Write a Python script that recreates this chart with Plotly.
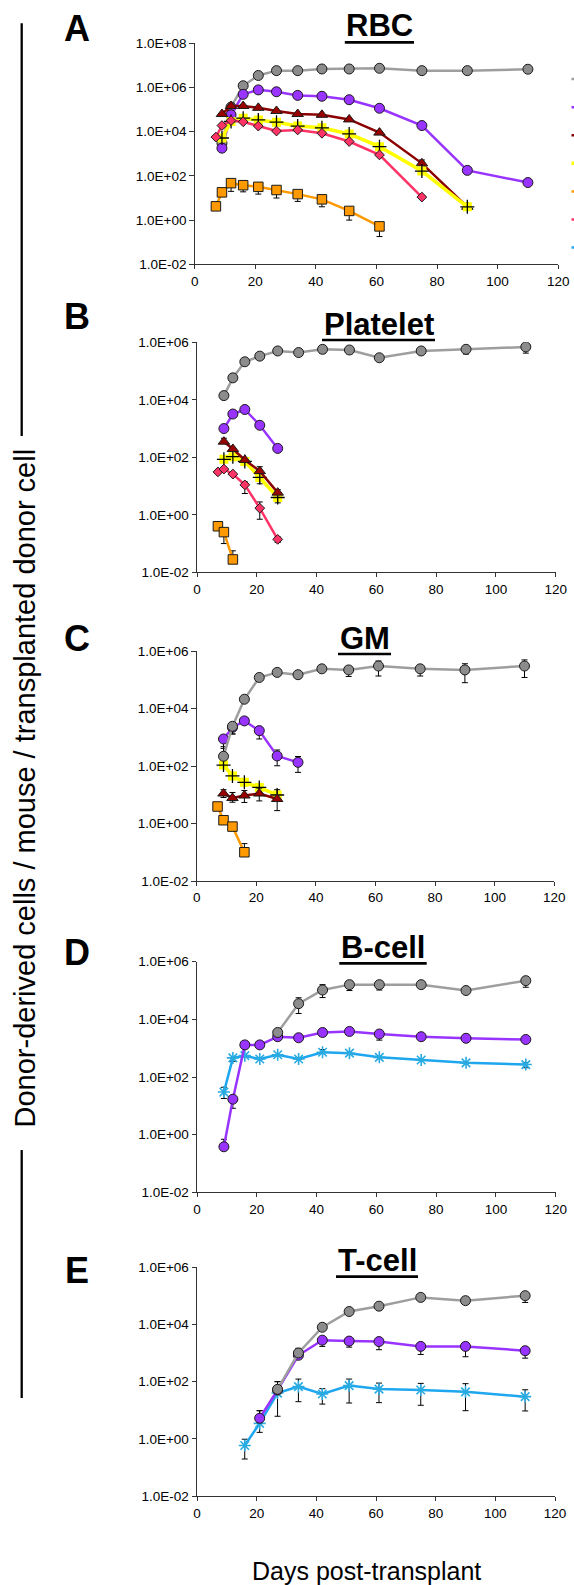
import plotly.graph_objects as go

# ---------------- data ----------------
DAYS = [7, 9, 12, 16, 21, 27, 34, 42, 51, 61, 75, 90, 110]
X_TICKS = [0, 20, 40, 60, 80, 100, 120]
Y_TICKS_A = [1e-2, 1e0, 1e2, 1e4, 1e6, 1e8]
Y_LABELS_A = ["1.0E-02", "1.0E+00", "1.0E+02", "1.0E+04", "1.0E+06", "1.0E+08"]
Y_TICKS = [1e-2, 1e0, 1e2, 1e4, 1e6]
Y_LABELS = ["1.0E-02", "1.0E+00", "1.0E+02", "1.0E+04", "1.0E+06"]

PANEL_TITLES = ["RBC", "Platelet", "GM", "B-cell", "T-cell"]
PANEL_LETTERS = ["A", "B", "C", "D", "E"]
SERIES_NAMES = {"gray": "Series 1", "purple": "Series 2", "darkred": "Series 3",
                "yellow": "Series 4", "orange": "Series 5", "pink": "Series 6",
                "blue": "Series 7"}
Y_TITLE = "Donor-derived cells / mouse / transplanted donor cell"
X_TITLE = "Days post-transplant"

N = None
# RBC
RBC_GRAY = [N, 3e3, 1.3e5, 1.2e6, 3.5e6, 5.8e6, 5.8e6, 6.9e6, 6.9e6, 7.4e6, 5.8e6, 5.8e6, 6.7e6]
RBC_PURPLE = [N, 1.8e3, 5.8e4, 4.9e5, 7.8e5, 6.4e5, 4.4e5, 4.0e5, 2.8e5, 1.15e5, 1.9e4, 178, 50]
RBC_DARKRED = [N, 6.3e4, 1.45e5, 1.45e5, 1.2e5, 8.7e4, 6.3e4, 5.8e4, 3.6e4, 9.1e3, 370, 4, N]
RBC_YELLOW = [N, 5.2e3, 2.9e4, 4.1e4, 3.4e4, 2.7e4, 1.8e4, 1.5e4, 7.9e3, 2.1e3, 166, 4, N]
RBC_ORANGE = [4.2, 18, 47, 38, 32, 23, 15, 8.7, 2.6, 0.52, N, N, N]
RBC_PINK = [5.7e3, 1.9e4, 3.2e4, 2.8e4, 1.8e4, 1.07e4, 1.2e4, 8.5e3, 3.6e3, 890, 11, N, N]
RBC_BLUE = [N] * 13
RBC_DARKRED_HI = {75: 525}
RBC_ORANGE_LO = {12: 20, 16: 19, 21: 15, 27: 10, 34: 7, 42: 4, 51: 1.0, 61: 0.18}

# Platelet
PLT_GRAY = [N, 1.4e4, 5.8e4, 2.1e5, 3.3e5, 5.0e5, 4.4e5, 5.7e5, 5.4e5, 2.9e5, 5.0e5, 5.7e5, 6.9e5]
PLT_PURPLE = [N, 1.0e3, 3.2e3, 4.6e3, 1.3e3, 204, N, N, N, N, N, N, N]
PLT_DARKRED = [N, 350, 195, 81, 33, 5.9, N, N, N, N, N, N, N]
PLT_YELLOW = [N, 85, 105, 72, 20, 4.0, N, N, N, N, N, N, N]
PLT_PINK = [31, 39, 26, 11, 1.7, 0.14, N, N, N, N, N, N, N]
PLT_ORANGE = [0.40, 0.25, 0.028, N, N, N, N, N, N, N, N, N, N]
PLT_GRAY_HI = {42: 7.5e5, 51: 7.0e5, 75: 6.5e5, 90: 7.5e5, 110: 1.05e6}
PLT_GRAY_LO = {42: 4.2e5, 51: 4.0e5, 75: 3.8e5, 90: 3.9e5, 110: 4.2e5}
PLT_DARKRED_HI = {9: 460, 21: 47, 27: 7.5}
PLT_YELLOW_LO = {21: 12, 27: 2.6}
PLT_PINK_HI = {16: 14, 21: 2.8, 27: 0.17}
PLT_PINK_LO = {16: 5.5, 21: 0.7, 27: 0.11}
PLT_ORANGE_HI = {12: 0.056}
PLT_ORANGE_LO = {9: 0.1}

# GM
GM_GRAY = [N, 218, 2.4e3, 2.1e4, 1.2e5, 1.8e5, 1.5e5, 2.4e5, 2.2e5, 3.0e5, 2.4e5, 2.2e5, 3.0e5]
GM_PURPLE = [N, 870, 2.2e3, 3.7e3, 1.7e3, 224, 134, N, N, N, N, N, N]
GM_YELLOW = [N, 108, 45, 27, 18, 9.8, N, N, N, N, N, N, N]
GM_DARKRED = [N, 11, 7.7, 9.4, 11, 7.1, N, N, N, N, N, N, N]
GM_ORANGE = [3.9, 1.3, 0.78, 0.10, N, N, N, N, N, N, N, N, N]
GM_GRAY_HI = {9: 470, 51: 2.8e5, 61: 4.5e5, 75: 2.9e5, 90: 3.6e5, 110: 4.9e5}
GM_GRAY_LO = {12: 1.3e3, 51: 1.3e5, 61: 1.35e5, 75: 1.35e5, 90: 7.9e4, 110: 1.2e5}
GM_PURPLE_HI = {27: 360, 34: 214}
GM_PURPLE_LO = {9: 410, 12: 1.3e3, 21: 870, 27: 102, 34: 60}
GM_DARKRED_HI = {9: 15, 12: 12, 16: 14, 21: 17, 27: 15}
GM_DARKRED_LO = {9: 8, 12: 5.5, 16: 5.4, 21: 6.1, 27: 2.8}
GM_ORANGE_HI = {16: 0.2}

# B-cell
BC_GRAY = [N, N, N, N, N, 3.5e3, 3.5e4, 1.04e5, 1.6e5, 1.6e5, 1.6e5, 1.0e5, 2.2e5]
BC_PURPLE = [N, 0.38, 17, 1.3e3, 1.3e3, 2.5e3, 2.3e3, 3.5e3, 3.8e3, 3.1e3, 2.5e3, 2.2e3, 2.0e3]
BC_BLUE = [N, 30, 460, 550, 420, 590, 420, 720, 670, 480, 390, 310, 270]
BC_GRAY_HI = {34: 5.6e4, 42: 1.6e5, 110: 2.9e5}
BC_GRAY_LO = {34: 1.6e4, 42: 5.7e4, 51: 1.0e5, 61: 1.04e5, 90: 8e4, 110: 1.3e5}
BC_PURPLE_HI = {9: 0.69}
BC_PURPLE_LO = {12: 8.2, 61: 1.9e3, 90: 1.6e3}
BC_BLUE_HI = {9: 44, 42: 900, 110: 320}
BC_BLUE_LO = {9: 18, 12: 350, 110: 210}

# T-cell
TC_GRAY = [N, N, N, N, N, 54, 1.0e3, 7.9e3, 2.8e4, 4.3e4, 8.7e4, 6.7e4, 1.0e5]
TC_PURPLE = [N, N, N, N, 5.3, 51, 830, 2.8e3, 2.6e3, 2.5e3, 1.7e3, 1.7e3, 1.2e3]
TC_BLUE = [N, N, N, 0.59, 3.5, 40, 67, 37, 73, 55, 51, 44, 30]
TC_GRAY_HI = {27: 100, 34: 1.45e3, 42: 1.07e4}
TC_GRAY_LO = {75: 7e4, 90: 5.2e4, 110: 5.8e4}
TC_PURPLE_HI = {21: 9.7, 90: 2.3e3}
TC_PURPLE_LO = {21: 3.7, 42: 1.7e3, 51: 1.6e3, 61: 1.3e3, 75: 890, 90: 740, 110: 660}
TC_BLUE_HI = {16: 0.98, 21: 9.7, 27: 100, 34: 123, 42: 57, 51: 123, 61: 89, 75: 87, 90: 85, 110: 52}
TC_BLUE_LO = {16: 0.2, 21: 1.7, 27: 6.2, 34: 20, 42: 16.5, 51: 18, 61: 18.5, 75: 15, 90: 9.7, 110: 9.5}

# ---------------- styles ----------------
STYLE = {
    "gray": dict(symbol="circle", fill="#8c8c8c", line="#9e9e9e", size=10, lw=2.5),
    "purple": dict(symbol="circle", fill="#9933ff", line="#9933ff", size=10, lw=2.5),
    "darkred": dict(symbol="triangle-up", fill="#990000", line="#8b0000", size=10, lw=2.5),
    "yellow": dict(symbol="square", fill="#ffff00", line="#ffff00", size=9, lw=3.5),
    "orange": dict(symbol="square", fill="#ff9900", line="#ff9900", size=9.5, lw=2.5),
    "pink": dict(symbol="diamond", fill="#ff3366", line="#ff3366", size=7.5, lw=2.5),
    "blue": dict(symbol="asterisk-open", fill="#29abe2", line="#1ea6ef", size=10, lw=2.5),
}
LEGEND_RANK = {"gray": 1, "purple": 2, "darkred": 3, "yellow": 4, "orange": 5, "pink": 6, "blue": 7}

W, H = 574, 1585
FONT = "Liberation Sans, Arial, sans-serif"

PANEL_X = [(194.7, 558.2), (197, 555.7), (196.7, 554.3), (197, 555.7), (197, 555)]
PANEL_Y = [(43.3, 264.3), (342.3, 572.3), (651, 881), (961.7, 1192.3), (1267, 1496.3)]

PANELS = [
    [("gray", RBC_GRAY, {}, {}), ("purple", RBC_PURPLE, {}, {}),
     ("darkred", RBC_DARKRED, RBC_DARKRED_HI, {}), ("yellow", RBC_YELLOW, {}, {}),
     ("orange", RBC_ORANGE, {}, RBC_ORANGE_LO), ("pink", RBC_PINK, {}, {}),
     ("blue", RBC_BLUE, {}, {})],
    [("gray", PLT_GRAY, PLT_GRAY_HI, PLT_GRAY_LO), ("purple", PLT_PURPLE, {}, {}),
     ("yellow", PLT_YELLOW, {}, PLT_YELLOW_LO), ("darkred", PLT_DARKRED, PLT_DARKRED_HI, {}),
     ("pink", PLT_PINK, PLT_PINK_HI, PLT_PINK_LO), ("orange", PLT_ORANGE, PLT_ORANGE_HI, PLT_ORANGE_LO)],
    [("purple", GM_PURPLE, GM_PURPLE_HI, GM_PURPLE_LO), ("yellow", GM_YELLOW, {}, {}),
     ("darkred", GM_DARKRED, GM_DARKRED_HI, GM_DARKRED_LO), ("orange", GM_ORANGE, GM_ORANGE_HI, {}),
     ("gray", GM_GRAY, GM_GRAY_HI, GM_GRAY_LO)],
    [("blue", BC_BLUE, BC_BLUE_HI, BC_BLUE_LO), ("purple", BC_PURPLE, BC_PURPLE_HI, BC_PURPLE_LO),
     ("gray", BC_GRAY, BC_GRAY_HI, BC_GRAY_LO)],
    [("blue", TC_BLUE, TC_BLUE_HI, TC_BLUE_LO), ("purple", TC_PURPLE, TC_PURPLE_HI, TC_PURPLE_LO),
     ("gray", TC_GRAY, TC_GRAY_HI, TC_GRAY_LO)],
]

fig = go.Figure()


def px_x(p):
    return p / W


def px_y(p):
    return 1 - p / H


for i, series in enumerate(PANELS):
    sfx = "" if i == 0 else str(i + 1)
    xa, ya = "x" + sfx, "y" + sfx
    for key, vals, hi, lo in series:
        st = STYLE[key]
        xs = [d for d, v in zip(DAYS, vals) if v is not None]
        ys = [v for v in vals if v is not None]
        plus = [(hi[d] - v) if d in hi else 0 for d, v in zip(xs, ys)]
        minus = [(v - lo[d]) if d in lo else 0 for d, v in zip(xs, ys)]
        if key == "blue":
            marker = dict(symbol=st["symbol"], size=st["size"], color=st["fill"],
                          line=dict(color=st["fill"], width=1.6))
        elif key == "yellow":
            marker = dict(symbol=st["symbol"], size=st["size"], color=st["fill"],
                          line=dict(color=st["fill"], width=0))
        else:
            marker = dict(symbol=st["symbol"], size=st["size"], color=st["fill"],
                          line=dict(color="#1a1a1a", width=1))
        fig.add_trace(go.Scatter(
            x=xs if xs else [None], y=ys if ys else [None], mode="lines+markers",
            name=SERIES_NAMES[key], legendrank=LEGEND_RANK[key],
            showlegend=(i == 0),
            line=dict(color=st["line"], width=st["lw"]),
            marker=marker,
            error_y=dict(type="data", symmetric=False, array=plus, arrayminus=minus,
                         color="black", thickness=1, width=3),
            xaxis=xa, yaxis=ya, hoverinfo="x+y",
        ))
        if key == "yellow":
            fig.add_trace(go.Scatter(
                x=xs, y=ys, mode="markers", showlegend=False,
                marker=dict(symbol="cross-thin", size=10, color="black",
                            line=dict(color="black", width=1.3)),
                xaxis=xa, yaxis=ya, hoverinfo="skip",
            ))

layout = dict(
    width=W, height=H,
    margin=dict(l=0, r=0, t=0, b=0, autoexpand=False),
    paper_bgcolor="white", plot_bgcolor="white",
    font=dict(family=FONT, color="black"),
    showlegend=True,
    legend=dict(x=566.5 / W, xanchor="left", y=px_y(60), yanchor="top",
                font=dict(size=19.3), bgcolor="rgba(0,0,0,0)", borderwidth=0,
                traceorder="normal"),
)

for i in range(5):
    sfx = "" if i == 0 else str(i + 1)
    x0, x1 = PANEL_X[i]
    ytop, ybot = PANEL_Y[i]
    layout["xaxis" + sfx] = dict(
        domain=[px_x(x0), px_x(x1)], anchor="y" + sfx, range=[0, 120],
        tickvals=X_TICKS, ticks="outside", ticklen=4, tickwidth=1, tickcolor="#333",
        showline=True, linecolor="#333", linewidth=1, showgrid=False, zeroline=False,
        tickfont=dict(size=13.5, family=FONT, color="black"),
    )
    layout["yaxis" + sfx] = dict(
        domain=[px_y(ybot), px_y(ytop)], anchor="x" + sfx, type="log",
        range=[-2, 8] if i == 0 else [-2, 6],
        tickvals=Y_TICKS_A if i == 0 else Y_TICKS,
        ticktext=Y_LABELS_A if i == 0 else Y_LABELS,
        ticks="outside", ticklen=4.5, tickwidth=1, tickcolor="#333",
        showline=True, linecolor="#333", linewidth=1, showgrid=False, zeroline=False,
        tickfont=dict(size=13.5, family=FONT, color="black"),
    )

fig.update_layout(**layout)

# titles, underlines, letters
TITLE_POS = [(379.4, 25.8), (378.5, 324), (364.6, 638.5), (383, 947.5), (377, 1260)]
UNDERLINES = [(344.8, 414, 42.3), (322, 435, 340), (338, 391, 654), (339.3, 426.7, 963.3), (336, 418, 1276.7)]
LETTER_POS = [(77, 29), (77, 316), (77, 638), (77, 953), (77, 1270)]

annotations = []
shapes = []
for i in range(5):
    tx, ty = TITLE_POS[i]
    annotations.append(dict(text="<b>%s</b>" % PANEL_TITLES[i], x=px_x(tx), y=px_y(ty),
                            xref="paper", yref="paper", xanchor="center", yanchor="middle",
                            showarrow=False, font=dict(size=31, family=FONT, color="black")))
    ux0, ux1, uy = UNDERLINES[i]
    shapes.append(dict(type="line", xref="paper", yref="paper", x0=px_x(ux0), x1=px_x(ux1),
                       y0=px_y(uy), y1=px_y(uy), line=dict(color="black", width=2.7)))
    lx, ly = LETTER_POS[i]
    annotations.append(dict(text="<b>%s</b>" % PANEL_LETTERS[i], x=px_x(lx), y=px_y(ly),
                            xref="paper", yref="paper", xanchor="center", yanchor="middle",
                            showarrow=False, font=dict(size=36, family=FONT, color="black")))

annotations.append(dict(text=Y_TITLE, x=px_x(24), y=px_y(788.5), xref="paper", yref="paper",
                        xanchor="center", yanchor="middle", textangle=-90, showarrow=False,
                        font=dict(size=29, family=FONT, color="black")))
annotations.append(dict(text=X_TITLE, x=px_x(366), y=px_y(1571), xref="paper", yref="paper",
                        xanchor="center", yanchor="middle", showarrow=False,
                        font=dict(size=25, family=FONT, color="black")))

for (a, b) in [(23.3, 436), (1150, 1398)]:
    shapes.append(dict(type="line", xref="paper", yref="paper", x0=px_x(21.7), x1=px_x(21.7),
                       y0=px_y(a), y1=px_y(b), line=dict(color="black", width=2.3)))

fig.update_layout(annotations=annotations, shapes=shapes)

fig.write_html("out.html", config={"displayModeBar": False},
               post_script="document.body.style.margin='0';document.body.style.overflow='hidden';")
